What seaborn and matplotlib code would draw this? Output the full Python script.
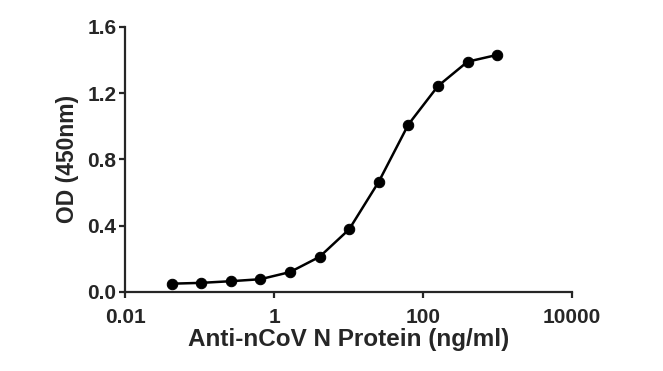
import numpy as np
import pandas as pd
import seaborn as sns
import matplotlib
matplotlib.use("Agg")
import matplotlib.pyplot as plt
from matplotlib.ticker import FixedLocator, FixedFormatter, NullLocator

# concentration (ng/ml), 2.5-fold dilution series, and measured OD450
conc = [0.04194304, 0.1048576, 0.262144, 0.65536, 1.6384, 4.096,
        10.24, 25.6, 64, 160, 400, 1000]
od = [0.050, 0.055, 0.065, 0.077, 0.120, 0.212,
      0.378, 0.665, 1.010, 1.242, 1.389, 1.430]
xticks = [0.01, 1, 100, 10000]
xticklabels = ["0.01", "1", "100", "10000"]
yticks = [0.0, 0.4, 0.8, 1.2, 1.6]

df = pd.DataFrame({"conc": conc, "od": od})

sns.set_style("ticks")
plt.rcParams['font.family'] = ['Liberation Sans', 'DejaVu Sans']
plt.rcParams['font.weight'] = 'bold'

fig = plt.figure(figsize=(6.63, 3.71), dpi=100)
ax = fig.add_axes([0.189, 0.213, 0.673, 0.715])

sns.lineplot(data=df, x="conc", y="od", ax=ax, color="black", linewidth=1.8,
             marker="o", markersize=7.5, markeredgecolor="black", clip_on=False)

ax.set_xscale("log")
ax.set_xlim(0.01, 10000)
ax.set_ylim(0, 1.6)
ax.xaxis.set_major_locator(FixedLocator(xticks))
ax.xaxis.set_major_formatter(FixedFormatter(xticklabels))
ax.xaxis.set_minor_locator(NullLocator())
ax.set_yticks(yticks)
ax.set_yticklabels([f"{v:.1f}" for v in yticks])

for s in ["top", "right"]:
    ax.spines[s].set_visible(False)
for s in ["left", "bottom"]:
    ax.spines[s].set_linewidth(1.6)
ax.tick_params(axis="both", width=1.6, length=4.5, labelsize=15)
ax.tick_params(axis="x", pad=7)
ax.tick_params(axis="y", pad=2)
for lab in ax.get_xticklabels() + ax.get_yticklabels():
    lab.set_fontweight("bold")

ax.set_xlabel("Anti-nCoV N Protein (ng/ml)", fontsize=17.5, fontweight="bold", labelpad=1)
ax.set_ylabel("OD (450nm)", fontsize=16.5, fontweight="bold", labelpad=6)

fig.savefig("out.png", dpi=100)
